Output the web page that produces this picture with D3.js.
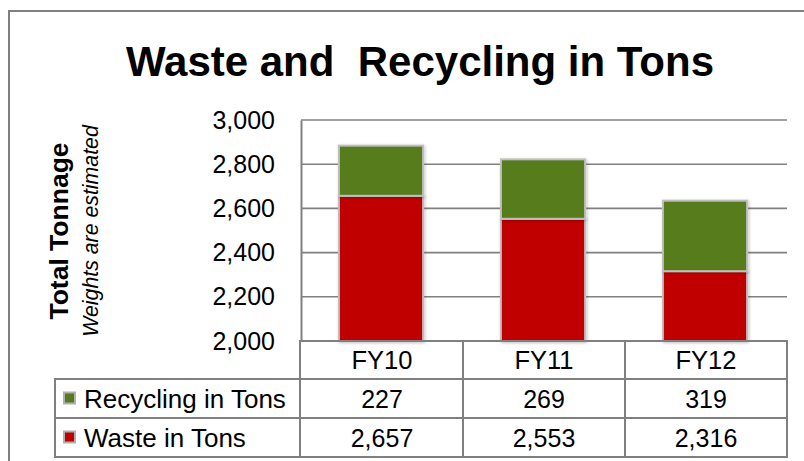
<!DOCTYPE html>
<html>
<head>
<meta charset="utf-8">
<title>Waste and Recycling in Tons</title>
<script src="https://d3js.org/d3.v7.min.js"></script>
<style>
  body { margin: 0; background: #fff; }
  svg { display: block; font-family: "Liberation Sans", Arial, sans-serif; }
</style>
</head>
<body>
<svg id="chart" width="804" height="461"></svg>
<script>
// data
const years = ["FY10", "FY11", "FY12"];
const waste = [2657, 2553, 2316];
const recycling = [227, 269, 319];
const yTicks = [2000, 2200, 2400, 2600, 2800, 3000];

const green = "#567b1f", red = "#c00000", lineGray = "#808080";

const svg = d3.select("#chart");

const defs = svg.append("defs");
const shadow = defs.append("filter").attr("id", "shadow")
  .attr("x", "-20%").attr("y", "-20%").attr("width", "140%").attr("height", "140%");
shadow.append("feDropShadow").attr("dx", 1).attr("dy", 1).attr("stdDeviation", 1.5)
  .attr("flood-color", "#000").attr("flood-opacity", 0.25);

// outer border (runs off the right and bottom edges)
svg.append("rect").attr("x", 9).attr("y", 11).attr("width", 830).attr("height", 480)
  .attr("fill", "none").attr("stroke", lineGray).attr("stroke-width", 2);

// title
svg.append("text").attr("x", 420).attr("y", 76).attr("text-anchor", "middle")
  .attr("font-size", 42).attr("font-weight", "bold")
  .attr("xml:space", "preserve")
  .text("Waste and  Recycling in Tons");

const plotL = 301, plotR = 787, plotT = 120, plotB = 341;

const x = d3.scaleBand().domain(years).range([plotL, plotR]);
const y = d3.scaleLinear().domain([2000, 3000]).range([plotB, plotT]);

// gridlines
svg.append("g").selectAll("line").data(yTicks.slice(1)).join("line")
  .attr("x1", plotL).attr("x2", plotR)
  .attr("y1", d => y(d)).attr("y2", d => y(d))
  .attr("stroke", lineGray).attr("stroke-width", 1.6);

// y axis
const yAxis = svg.append("g").attr("transform", `translate(${plotL},0)`)
  .call(d3.axisLeft(y).tickValues(yTicks).tickFormat(d3.format(",")).tickSize(0).tickPadding(26));
yAxis.select(".domain").attr("stroke", lineGray).attr("stroke-width", 2);
yAxis.selectAll("text").attr("font-size", 25).attr("fill", "#000")
  .attr("font-family", "'Liberation Sans', Arial, sans-serif");

// axis titles
svg.append("text").attr("transform", "translate(68,231) rotate(-90)")
  .attr("text-anchor", "middle").attr("font-size", 26.5).attr("font-weight", "bold")
  .text("Total Tonnage");
svg.append("text").attr("transform", "translate(98,231) rotate(-90)")
  .attr("text-anchor", "middle").attr("font-size", 21.3).attr("font-style", "italic")
  .text("Weights are estimated");

// stacked bars
const rows = years.map((yr, i) => ({ year: yr, waste: waste[i], recycling: recycling[i] }));
const stacked = d3.stack().keys(["waste", "recycling"])(rows);
const barW = x.bandwidth() * 0.52;
const colors = { waste: red, recycling: green };

svg.append("g").selectAll("g").data(stacked).join("g")
  .attr("fill", d => colors[d.key])
  .selectAll("rect").data(d => d).join("rect")
  .attr("x", d => x(d.data.year) + (x.bandwidth() - barW) / 2 - 1)
  .attr("y", d => y(d[1]))
  .attr("width", barW)
  .attr("height", d => y(Math.max(d[0], 2000)) - y(d[1]))
  .attr("stroke", "#c0c0c0").attr("stroke-width", 2)
  .attr("filter", "url(#shadow)");

// data table
const tLeft = 55, rowTop = 379, rowH = 39;
const tbl = svg.append("g").attr("stroke", lineGray).attr("stroke-width", 2).attr("fill", "none");
tbl.append("rect").attr("x", plotL - 1).attr("y", plotB).attr("width", plotR - plotL + 1).attr("height", rowTop - plotB);
tbl.append("rect").attr("x", tLeft).attr("y", rowTop).attr("width", plotR - tLeft).attr("height", rowH * 2);
tbl.append("line").attr("x1", tLeft).attr("x2", plotR).attr("y1", rowTop + rowH).attr("y2", rowTop + rowH);
tbl.selectAll(".v").data(years.slice(1)).join("line")
  .attr("x1", d => x(d)).attr("x2", d => x(d)).attr("y1", plotB).attr("y2", rowTop + rowH * 2);
tbl.append("line").attr("x1", plotL - 1).attr("x2", plotL - 1).attr("y1", plotB).attr("y2", rowTop + rowH * 2);

// header labels
svg.append("g").selectAll("text").data(years).join("text")
  .attr("x", d => x(d) + x.bandwidth() / 2).attr("y", plotB + 28)
  .attr("text-anchor", "middle").attr("font-size", 25.5).text(d => d);

const fmt = d3.format(",");
const series = [
  { name: "Recycling in Tons", color: green, values: recycling },
  { name: "Waste in Tons", color: red, values: waste }
];
series.forEach((s, r) => {
  const cy = rowTop + rowH * r + rowH / 2;
  svg.append("rect").attr("x", 64).attr("y", cy - 6).attr("width", 11).attr("height", 11)
    .attr("fill", s.color).attr("stroke", "#b0b0b0").attr("stroke-width", 2);
  svg.append("text").attr("x", 84).attr("y", cy + 9).attr("font-size", 26).text(s.name);
  svg.append("g").selectAll("text").data(s.values).join("text")
    .attr("x", (d, i) => x(years[i]) + x.bandwidth() / 2).attr("y", cy + 9)
    .attr("text-anchor", "middle").attr("font-size", 25).text(d => fmt(d));
});
</script>
</body>
</html>
